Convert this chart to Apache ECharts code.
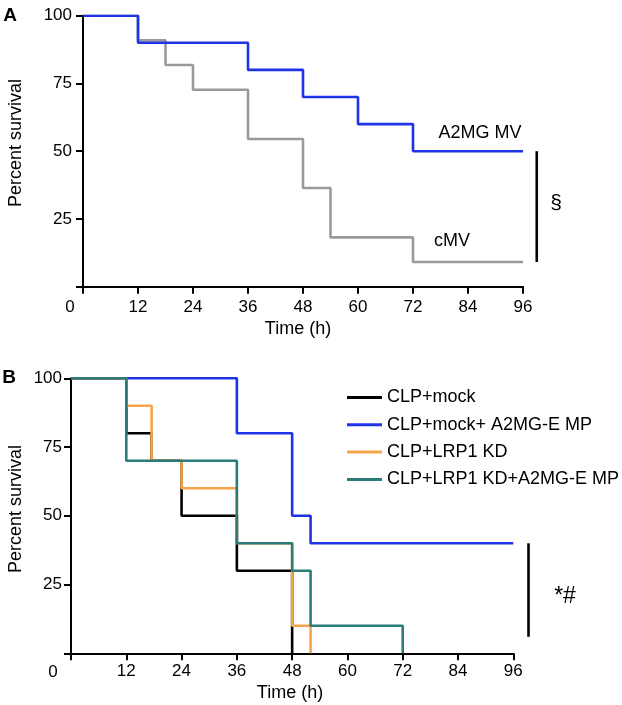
<!DOCTYPE html>
<html><head><meta charset="utf-8">
<script src="https://cdn.jsdelivr.net/npm/echarts@6/dist/echarts.min.js"></script>
<style>html,body{margin:0;padding:0;background:#fff}#c{width:622px;height:705px}</style>
</head><body><div id="c"></div>
<script>
// Panel A
const xTicksA = [0,12,24,36,48,60,72,84,96];
const yTicks = [0,25,50,75,100];
const a2mgTime = [0,12,36,48,60,72,96];
const a2mgSurv = [100,90,80,70,60,50,50];
const cmvTime = [0,12,18,24,36,48,54,72,96];
const cmvSurv = [100,90.9,81.8,72.7,54.5,36.4,18.2,9.1,9.1];
const bracketA = [[99,50,9.1]];
// Panel B
const mockTime = [0,12,17.5,24,36,48];
const mockSurv = [100,80,70,50,30,0];
const mockMpTime = [0,36,48,52,96];
const mockMpSurv = [100,80,50,40,40];
const kdTime = [0,12,17.5,24,36,48,52];
const kdSurv = [100,90,70,60,40,10,0];
const kdMpTime = [0,12,36,48,52,72];
const kdMpSurv = [100,70,40,30,10,0];
const bracketB = [[99.3,40,6]];
const namesB = ['CLP+mock','CLP+mock+ A2MG-E MP','CLP+LRP1 KD','CLP+LRP1 KD+A2MG-E MP'];

const zip = (t,v) => t.map((x,i)=>[x,v[i]]);
const F = '"Liberation Sans", Arial, sans-serif';
const axisLine = {show:true, lineStyle:{color:'#000', width:2}};
const axisTick = {show:true, length:7, lineStyle:{color:'#000', width:2}};

function xAxis(gi, margin){
  return {type:'value', gridIndex:gi, min:0, max:96, interval:12,
    axisLine, axisTick, splitLine:{show:false},
    axisLabel:{margin, fontSize:17, color:'#000', fontFamily:F, formatter:v=> v===0?'':String(v)}};
}
function yAxis(gi, margin){
  return {type:'value', gridIndex:gi, min:0, max:100, interval:25,
    axisLine, axisTick, splitLine:{show:false},
    axisLabel:{margin, fontSize:17, color:'#000', fontFamily:F, formatter:v=> v===0?'':String(v)}};
}
function km(name, t, v, color, xi, z){
  return {type:'line', name, xAxisIndex:xi, yAxisIndex:xi, step:'end', data:zip(t,v),
    showSymbol:false, symbol:'none', lineStyle:{color, width:2.6}, itemStyle:{color}, z, animation:false};
}
function bracket(d, xi){
  return {type:'custom', xAxisIndex:xi, yAxisIndex:xi, data:d, clip:false, silent:true, animation:false,
    renderItem:(params, api) => {
      const p1 = api.coord([api.value(0), api.value(1)]);
      const p2 = api.coord([api.value(0), api.value(2)]);
      return {type:'line', shape:{x1:p1[0], y1:p1[1], x2:p2[0], y2:p2[1]},
        style:{stroke:'#000', lineWidth:2.6}};
    }};
}
const txt = (text, x, y, size, extra) => ({type:'text', x, y,
  style:Object.assign({text, fontSize:size, fontFamily:F, fill:'#000', align:'center', verticalAlign:'middle'}, extra||{})});

const chart = echarts.init(document.getElementById('c'));
chart.setOption({
  animation:false,
  grid:[
    {left:83, top:15.7, right:99, bottom:418.3},
    {left:71, top:378.3, right:108.7, bottom:51.7}
  ],
  xAxis:[xAxis(0,12), xAxis(1,10)],
  yAxis:[yAxis(0,11), yAxis(1,9)],
  legend:{data:namesB, orient:'vertical', left:342, top:383.5, icon:'rect', itemWidth:35, itemHeight:3,
    itemGap:9.3, textStyle:{fontSize:18, fontFamily:F, color:'#000', lineHeight:18, padding:[0,0,0,0]}},
  series:[
    km('cMV', cmvTime, cmvSurv, '#9a9a9a', 0, 2),
    km('A2MG MV', a2mgTime, a2mgSurv, '#1f33e6', 0, 3),
    bracket(bracketA, 0),
    km(namesB[0], mockTime, mockSurv, '#000000', 1, 2),
    km(namesB[1], mockMpTime, mockMpSurv, '#1f33e6', 1, 3),
    km(namesB[2], kdTime, kdSurv, '#f5a549', 1, 4),
    km(namesB[3], kdMpTime, kdMpSurv, '#2b7b79', 1, 5),
    bracket(bracketB, 1)
  ],
  graphic:[
    txt('A', 10, 16, 19, {fontWeight:'bold'}),
    txt('B', 9, 378, 19, {fontWeight:'bold'}),
    txt('0', 70, 307, 17),
    txt('0', 53, 672, 17),
    txt('Time (h)', 298, 329, 18),
    txt('Time (h)', 290, 693, 18),
    {type:'text', x:16, y:143, rotation:Math.PI/2,
      style:{text:'Percent survival', fontSize:18, fontFamily:F, fill:'#000', align:'center', verticalAlign:'middle'}},
    {type:'text', x:16, y:509, rotation:Math.PI/2,
      style:{text:'Percent survival', fontSize:18, fontFamily:F, fill:'#000', align:'center', verticalAlign:'middle'}},
    txt('A2MG MV', 480, 133, 18),
    txt('cMV', 452, 241, 18),
    txt('§', 556, 203, 21),
    txt('*#', 565, 597, 23)
  ]
});
</script></body></html>
